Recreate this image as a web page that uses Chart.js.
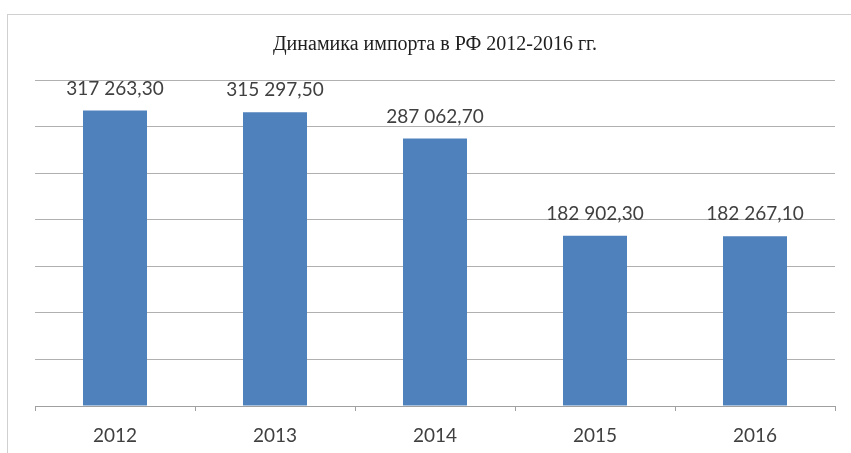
<!DOCTYPE html>
<html>
<head>
<meta charset="utf-8">
<script src="https://cdn.jsdelivr.net/npm/chart.js@4"></script>
<style>
  html, body { margin: 0; padding: 0; background: #fff; }
  #wrap { width: 851px; height: 453px; }
</style>
</head>
<body>
<div id="wrap"><canvas id="myChart" width="851" height="453"></canvas></div>
<script>
var years = ["2012", "2013", "2014", "2015", "2016"];
var importValues = [317263.3, 315297.5, 287062.7, 182902.3, 182267.1];
var yMax = 350000;
var yStep = 50000;

function fmt(v) {
	var parts = v.toFixed(2).split(".");
	parts[0] = parts[0].replace(/\B(?=(\d{3})+(?!\d))/g, " ");
	return parts[0] + "," + parts[1];
}

// frame round the chart, like the office one
var framePlugin = {
	id: "frame",
	beforeDraw: function (chart) {
		var c = chart.ctx;
		c.save();
		c.fillStyle = "#fff";
		c.fillRect(0, 0, chart.width, chart.height);
		c.strokeStyle = "#d0d0d0";
		c.lineWidth = 1;
		c.strokeRect(7.5, 14.5, chart.width, chart.height);
		c.restore();
	}
};

var labelPlugin = {
	id: "valueLabels",
	afterDatasetsDraw: function (chart) {
		var c = chart.ctx;
		var meta = chart.getDatasetMeta(0);
		c.save();
		c.font = "19px Lato";
		c.fillStyle = "#404040";
		c.textAlign = "center";
		c.textBaseline = "middle";
		meta.data.forEach(function (bar, i) {
			c.fillText(fmt(chart.data.datasets[0].data[i]), bar.x, bar.y - 22);
		});
		c.restore();
	}
};

var ctx = document.getElementById("myChart").getContext("2d");
var chart = new Chart(ctx, {
	type: "bar",
	data: {
		labels: years,
		datasets: [{
			data: importValues,
			backgroundColor: "#4F81BD",
			barPercentage: 0.4,
			categoryPercentage: 1
		}]
	},
	options: {
		responsive: false,
		animation: false,
		layout: { padding: { left: 35, right: 16, top: 0, bottom: 0 } },
		plugins: {
			legend: { display: false },
			tooltip: { enabled: false },
			title: {
				display: true,
				text: "Динамика импорта в РФ 2012-2016 гг.",
				font: { family: "Liberation Serif", size: 20, weight: "normal", lineHeight: 1.2 },
				color: "#202020",
				padding: { top: 33, bottom: 23 }
			}
		},
		scales: {
			x: {
				afterFit: function (scale) { scale.height = 47; },
				grid: { display: true, drawOnChartArea: false, drawTicks: true, tickLength: 5, color: "#a0a0a0", offset: true },
				border: { display: true, color: "#a0a0a0" },
				ticks: { color: "#404040", font: { family: "Lato", size: 19 }, padding: 13 }
			},
			y: {
				min: 0,
				max: yMax,
				ticks: { display: false, stepSize: yStep },
				grid: { color: "#b0b0b0", drawTicks: false },
				border: { display: false }
			}
		}
	},
	plugins: [framePlugin, labelPlugin]
});
</script>
</body>
</html>
